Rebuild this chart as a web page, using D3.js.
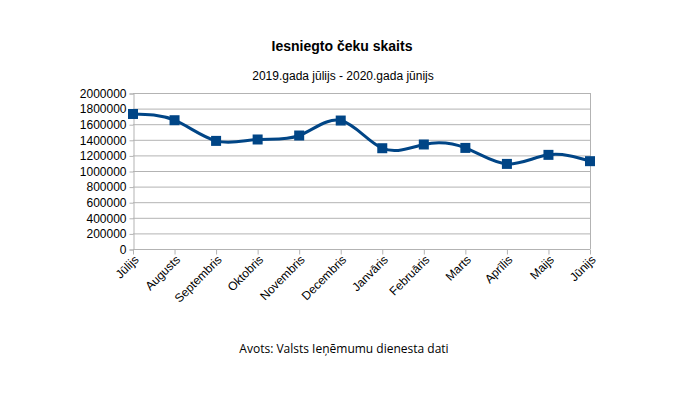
<!DOCTYPE html>
<html>
<head>
<meta charset="utf-8">
<script src="https://cdn.jsdelivr.net/npm/d3@7"></script>
<style>
  body { margin: 0; background: #fff; }
  text { font-family: "Liberation Sans", Arial, sans-serif; fill: #000; }
</style>
</head>
<body>
<div id="chart"></div>
<script>
// data
const months = ["Jūlijs", "Augusts", "Septembris", "Oktobris", "Novembris", "Decembris",
  "Janvāris", "Februāris", "Marts", "Aprīlis", "Maijs", "Jūnijs"];
const receipts = [1731000, 1651000, 1386000, 1404000, 1455000, 1647000,
  1292000, 1340000, 1296000, 1091000, 1207000, 1126000];
const yTicks = [0, 200000, 400000, 600000, 800000, 1000000, 1200000, 1400000, 1600000, 1800000, 2000000];

const W = 685, H = 395;
const plotL = 133, plotR = 590, plotT = 93, plotB = 249;

const svg = d3.select("#chart").append("svg")
  .attr("width", W)
  .attr("height", H);

const x = d3.scalePoint().domain(months).range([plotL, plotR]);
const y = d3.scaleLinear().domain([0, 2000000]).range([plotB, plotT]);

//titles
svg.append("text")
  .attr("x", 342).attr("y", 51)
  .attr("text-anchor", "middle")
  .style("font-size", "14px").style("font-weight", "bold")
  .text("Iesniegto čeku skaits");
svg.append("text")
  .attr("x", 343).attr("y", 80)
  .attr("text-anchor", "middle")
  .style("font-size", "12px")
  .text("2019.gada jūlijs - 2020.gada jūnijs");

//grid
svg.append("g").selectAll("line")
  .data(yTicks)
  .enter().append("line")
  .attr("x1", plotL).attr("x2", plotR)
  .attr("y1", d => y(d) + 0.5).attr("y2", d => y(d) + 0.5)
  .attr("stroke", "#b3b3b3");
svg.append("line")
  .attr("x1", plotR + 0.5).attr("x2", plotR + 0.5)
  .attr("y1", plotT).attr("y2", plotB)
  .attr("stroke", "#b3b3b3");

//axes
const yAxis = d3.axisLeft(y).tickValues(yTicks).tickSize(4).tickPadding(3).tickFormat(d3.format("d"));
const gy = svg.append("g")
  .attr("transform", "translate(" + (plotL + 0.5) + ",0.5)")
  .call(yAxis);
gy.selectAll("path, line").attr("stroke", "#b3b3b3");
gy.selectAll("text").style("font-size", "12px").attr("fill", "#000");

const xAxis = d3.axisBottom(x).tickSize(5).tickPadding(2);
const gx = svg.append("g")
  .attr("transform", "translate(0," + (plotB + 0.5) + ")")
  .call(xAxis);
gx.select(".domain").remove();
gx.selectAll("line").attr("stroke", "#b3b3b3");
gx.selectAll("text")
  .style("font-size", "12px")
  .attr("fill", "#000")
  .attr("text-anchor", "end")
  .attr("dy", "0.7em")
  .attr("transform", "translate(-5,0) rotate(-45)");

//series line
const line = d3.line()
  .x((d, i) => x(months[i]))
  .y(d => y(d))
  .curve(d3.curveNatural);
svg.append("path")
  .datum(receipts)
  .attr("d", line)
  .attr("fill", "none")
  .attr("stroke", "#004586")
  .attr("stroke-width", 3);

//markers
svg.selectAll("rect.pt")
  .data(receipts)
  .enter().append("rect")
  .attr("class", "pt")
  .attr("x", (d, i) => x(months[i]) - 5)
  .attr("y", d => y(d) - 5)
  .attr("width", 10).attr("height", 10)
  .attr("fill", "#004586");

//source
svg.append("text")
  .attr("x", 344).attr("y", 353)
  .attr("text-anchor", "middle")
  .style("font-family", "'Open Sans', sans-serif")
  .style("font-size", "12px")
  .text("Avots: Valsts Ieņēmumu dienesta dati");
</script>
</body>
</html>
